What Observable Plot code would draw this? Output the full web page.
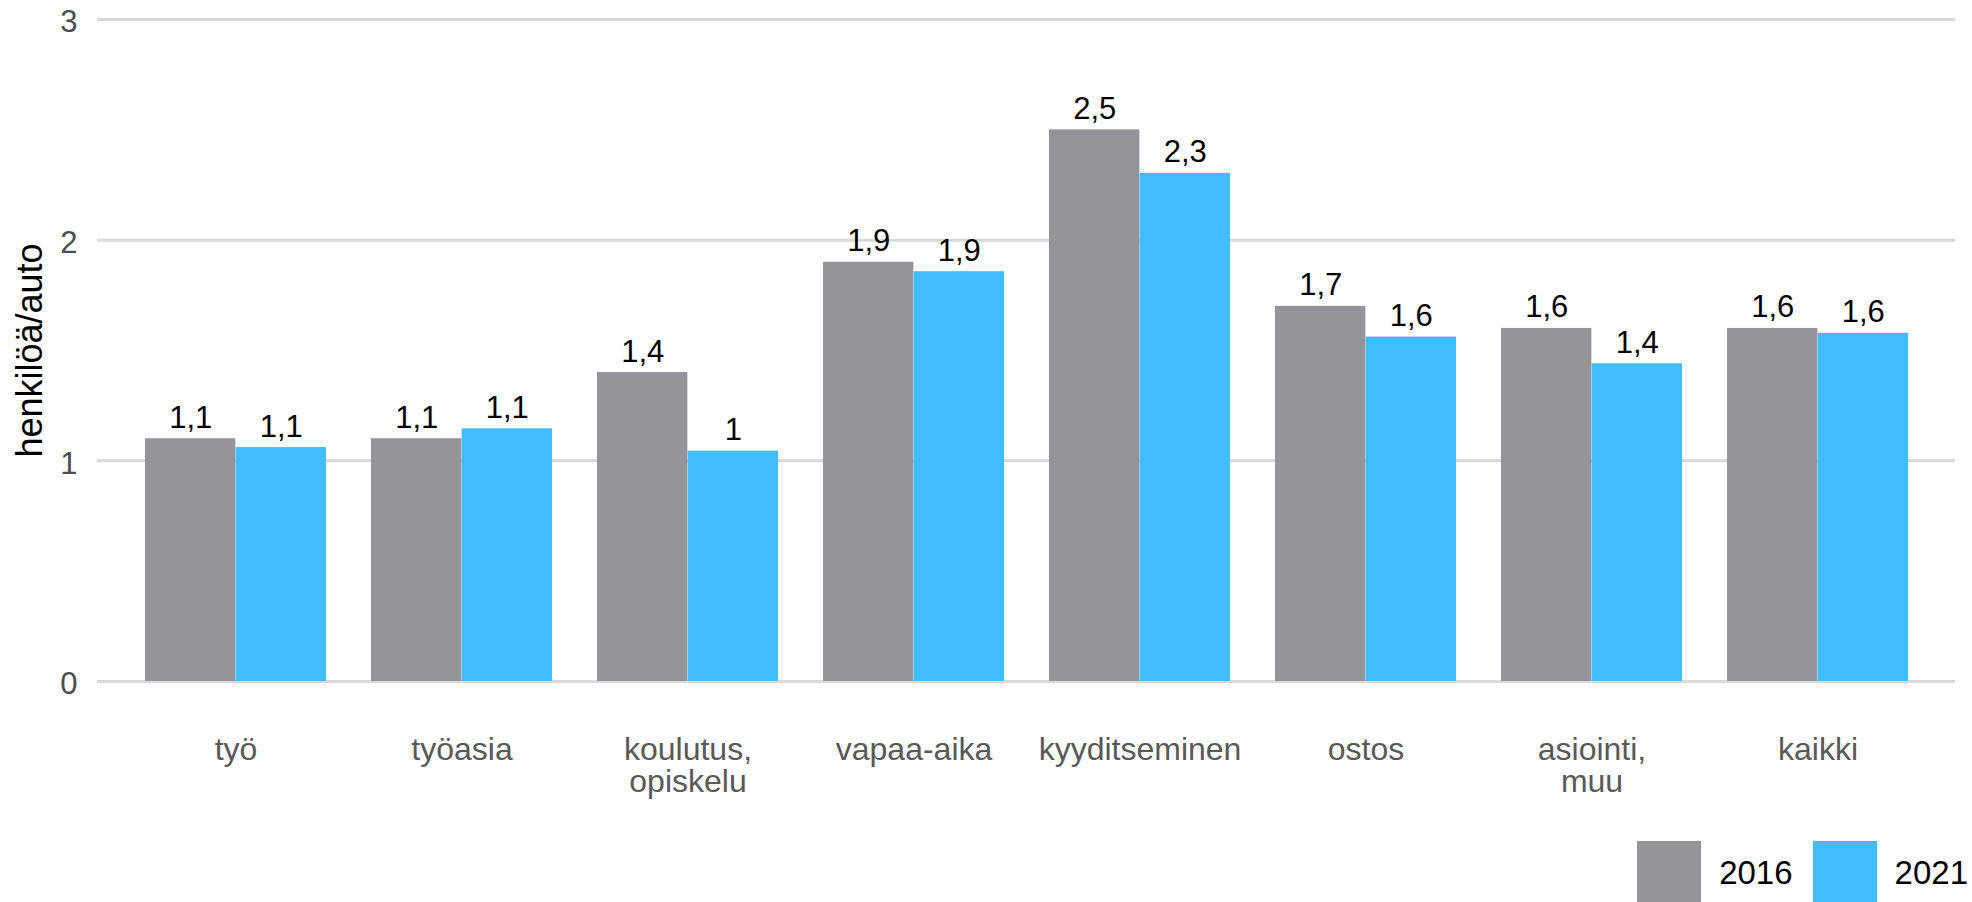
<!DOCTYPE html>
<html>
<head>
<meta charset="utf-8">
<script src="https://cdn.jsdelivr.net/npm/d3@7"></script>
<script src="https://cdn.jsdelivr.net/npm/@observablehq/plot@0.6"></script>
<style>
  body { margin: 0; background: #fff; font-family: "Liberation Sans", Arial, sans-serif; }
  #legend { display: flex; justify-content: flex-end; align-items: center; height: 64px; margin-top: 11px; padding-right: 4px; font-size: 33px; color: #000; }
  #legend .sw { width: 64px; height: 64px; margin-right: 18px; }
  #legend .lab { margin-right: 20px; }
  #legend .lab:last-child { margin-right: 0; }
</style>
</head>
<body>
<div id="chart"></div>
<div id="legend"></div>
<script>
// ---- data ----
const categories = ["työ", "työasia", "koulutus, opiskelu", "vapaa-aika", "kyyditseminen", "ostos", "asiointi, muu", "kaikki"];
const values2016 = [1.10, 1.10, 1.40, 1.90, 2.50, 1.70, 1.60, 1.60];
const values2021 = [1.06, 1.145, 1.044, 1.857, 2.303, 1.561, 1.44, 1.578];
const years = ["2016", "2021"];
const colors = ["#959498", "#40bcff"];
const yTicks = [0, 1, 2, 3];
const yTitle = "henkilöä/auto";

// ---- layout ----
const W = 1972, H = 830;
const mL = 97, mR = 17, mT = 19, mB = 149;
const padIn = 0.2, padOut = 0.2;
const step = (W - mL - mR) / (categories.length - padIn + 2 * padOut);
const bw = step * (1 - padIn);

const rows = categories.map((c, i) => ({category: c, v2016: values2016[i], v2021: values2021[i]}));
const fmt = v => String(Math.round(v * 10) / 10).replace(".", ",");

const plot = Plot.plot({
  width: W,
  height: H,
  marginLeft: mL,
  marginRight: mR,
  marginTop: mT,
  marginBottom: mB,
  style: {fontFamily: "'Liberation Sans', Arial, sans-serif", fontSize: "31px", background: "#fff"},
  x: {type: "band", domain: categories, paddingInner: padIn, paddingOuter: padOut},
  y: {domain: [0, 3]},
  marks: [
    Plot.ruleY(yTicks, {stroke: "#d9d9d9", strokeWidth: 3}),
    Plot.barY(rows, {x: "category", y: "v2016", fill: colors[0], insetRight: bw / 2}),
    Plot.barY(rows, {x: "category", y: "v2021", fill: colors[1], insetLeft: bw / 2}),
    Plot.text(rows, {x: "category", y: "v2016", text: d => fmt(d.v2016), dx: -bw / 4, dy: -11, lineAnchor: "bottom", fontSize: 31, fill: "#000"}),
    Plot.text(rows, {x: "category", y: "v2021", text: d => fmt(d.v2021), dx: bw / 4, dy: -11, lineAnchor: "bottom", fontSize: 31, fill: "#000"}),
    Plot.axisY({ticks: yTicks, tickFormat: d => String(d), tickSize: 0, tickPadding: 20, fontSize: 31, fill: "#4d4d4d", label: null, dy: 3}),
    Plot.axisX({tickSize: 0, tickPadding: 56, fontSize: 32, lineHeight: 1.0, fill: "#595959", label: null,
      tickFormat: d => d.replace(", ", ",\n")}),
    Plot.text([yTitle], {text: d => d, frameAnchor: "left", textAnchor: "middle", rotate: -90, dx: -67, dy: 0, fontSize: 36, fill: "#000", lineAnchor: "middle"})
  ]
});
document.getElementById("chart").appendChild(plot);

const legend = document.getElementById("legend");
years.forEach((yr, i) => {
  const sw = document.createElement("div");
  sw.className = "sw";
  sw.style.background = colors[i];
  const lab = document.createElement("div");
  lab.className = "lab";
  lab.textContent = yr;
  legend.appendChild(sw);
  legend.appendChild(lab);
});
</script>
</body>
</html>
